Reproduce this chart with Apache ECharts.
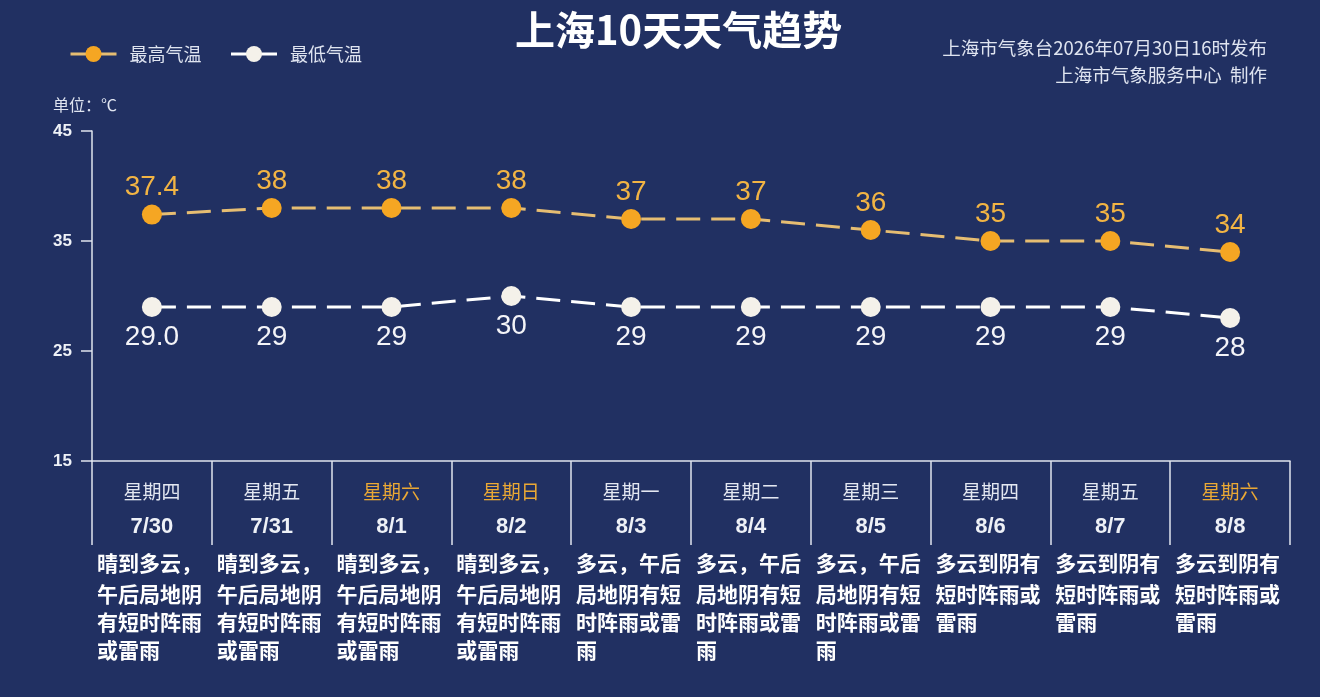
<!DOCTYPE html>
<html>
<head>
<meta charset="utf-8">
<script src="https://cdn.jsdelivr.net/npm/echarts@6/dist/echarts.min.js"></script>
<style>
  html, body { margin: 0; padding: 0; background: #213062; }
  #main { width: 1320px; height: 697px; }
</style>
</head>
<body>
<div id="main"></div>
<script>
// 日期 / 星期 / 天气描述
var dates = ['7/30', '7/31', '8/1', '8/2', '8/3', '8/4', '8/5', '8/6', '8/7', '8/8'];
var weekdays = ['星期四', '星期五', '星期六', '星期日', '星期一', '星期二', '星期三', '星期四', '星期五', '星期六'];
var weather = [
  ['晴到多云，', '午后局地阴', '有短时阵雨', '或雷雨'],
  ['晴到多云，', '午后局地阴', '有短时阵雨', '或雷雨'],
  ['晴到多云，', '午后局地阴', '有短时阵雨', '或雷雨'],
  ['晴到多云，', '午后局地阴', '有短时阵雨', '或雷雨'],
  ['多云，午后', '局地阴有短', '时阵雨或雷', '雨'],
  ['多云，午后', '局地阴有短', '时阵雨或雷', '雨'],
  ['多云，午后', '局地阴有短', '时阵雨或雷', '雨'],
  ['多云到阴有', '短时阵雨或', '雷雨'],
  ['多云到阴有', '短时阵雨或', '雷雨'],
  ['多云到阴有', '短时阵雨或', '雷雨']
];
// 气温
var highTemp = [37.4, 38, 38, 38, 37, 37, 36, 35, 35, 34];
var lowTemp = [29.0, 29, 29, 30, 29, 29, 29, 29, 29, 28];
var highText = ['37.4', '38', '38', '38', '37', '37', '36', '35', '35', '34'];
var lowText = ['29.0', '29', '29', '30', '29', '29', '29', '29', '29', '28'];
var yTicks = [15, 25, 35, 45];

var cjk = '"Noto Sans CJK SC", sans-serif';
var num = '"Liberation Sans", Arial, sans-serif';

var chart = echarts.init(document.getElementById('main'));

var option = {
  backgroundColor: '#213062',
  title: [{
    text: '上海10天天气趋势',
    left: 510,
    top: 5,
    textStyle: { color: '#ffffff', fontSize: 40, fontWeight: 'bold', fontFamily: cjk }
  }, {
    text: '上海市气象台2026年07月30日16时发布',
    right: 48,
    top: 34,
    textStyle: { color: '#dfe4f0', fontSize: 18.5, fontWeight: 'normal', fontFamily: cjk }
  }, {
    text: '上海市气象服务中心  制作',
    right: 48,
    top: 61,
    textStyle: { color: '#dfe4f0', fontSize: 18.5, fontWeight: 'normal', fontFamily: cjk }
  }],
  legend: {
    left: 64,
    top: 40,
    itemWidth: 46,
    itemHeight: 20,
    itemGap: 28,
    textStyle: { color: '#dfe4f0', fontSize: 18, fontFamily: cjk, padding: [0, 0, 0, 8] },
    lineStyle: { type: 'solid', width: 3 },
    data: ['最高气温', '最低气温']
  },
  grid: { left: 92, right: 30, top: 131, bottom: 236 },
  xAxis: {
    type: 'category',
    data: dates,
    boundaryGap: true,
    axisLine: { lineStyle: { color: '#dfe4ee', width: 1.5 } },
    axisTick: { show: true, interval: 0, length: 84, lineStyle: { color: '#dfe4ee', width: 1.5 } },
    axisLabel: {
      interval: 0,
      margin: 15,
      align: 'center',
      formatter: function (value, idx) {
        var wkStyle = (weekdays[idx] === '星期六' || weekdays[idx] === '星期日') ? 'wke' : 'wk';
        var s = '{' + wkStyle + '|' + weekdays[idx] + '}\n{dt|' + value + '}';
        var lines = weather[idx];
        for (var i = 0; i < lines.length; i++) {
          s += '\n{' + (i === 0 ? 'd1' : 'd') + '|' + lines[i] + '}';
        }
        return s;
      },
      rich: {
        wk: { color: '#e3e7f1', fontSize: 19, fontFamily: cjk, lineHeight: 32, align: 'center' },
        wke: { color: '#eaa835', fontSize: 19, fontFamily: cjk, lineHeight: 32, align: 'center' },
        dt: { color: '#eef1f7', fontSize: 22, fontFamily: num, fontWeight: 'bold', lineHeight: 38, align: 'center' },
        d1: { color: '#ffffff', fontSize: 21, fontFamily: cjk, fontWeight: 'bold', lineHeight: 34, width: 110, align: 'left' },
        d: { color: '#ffffff', fontSize: 21, fontFamily: cjk, fontWeight: 'bold', lineHeight: 28, width: 110, align: 'left' }
      }
    }
  },
  yAxis: {
    type: 'value',
    min: 15,
    max: 45,
    interval: 10,
    name: '单位：℃',
    nameLocation: 'end',
    nameGap: 18,
    nameTextStyle: { color: '#dfe4f0', fontSize: 16, fontFamily: cjk, padding: [0, 0, 0, -14] },
    axisLine: { show: true, lineStyle: { color: '#dfe4ee', width: 1.5 } },
    axisTick: { show: true, length: 11, lineStyle: { color: '#dfe4ee', width: 1.5 } },
    axisLabel: {
      margin: 20,
      color: '#eef1f7',
      fontSize: 17,
      fontWeight: 'bold',
      fontFamily: num,
      customValues: yTicks
    },
    splitLine: { show: false }
  },
  series: [{
    name: '最高气温',
    type: 'line',
    data: highTemp,
    symbol: 'circle',
    symbolSize: 20,
    itemStyle: { color: '#f5a623' },
    lineStyle: { color: '#e6bd72', width: 3, type: [24, 11] },
    label: {
      show: true,
      position: 'top',
      distance: 3,
      color: '#f2b444',
      fontSize: 28,
      fontFamily: num,
      formatter: function (p) { return highText[p.dataIndex]; }
    },
    z: 3
  }, {
    name: '最低气温',
    type: 'line',
    data: lowTemp,
    symbol: 'circle',
    symbolSize: 20,
    itemStyle: { color: '#f4f1ea' },
    lineStyle: { color: '#ffffff', width: 3, type: [24, 11] },
    label: {
      show: true,
      position: 'bottom',
      distance: 6,
      color: '#f4f4f8',
      fontSize: 28,
      fontFamily: num,
      formatter: function (p) { return lowText[p.dataIndex]; }
    },
    z: 3
  }]
};

chart.setOption(option);
</script>
</body>
</html>
